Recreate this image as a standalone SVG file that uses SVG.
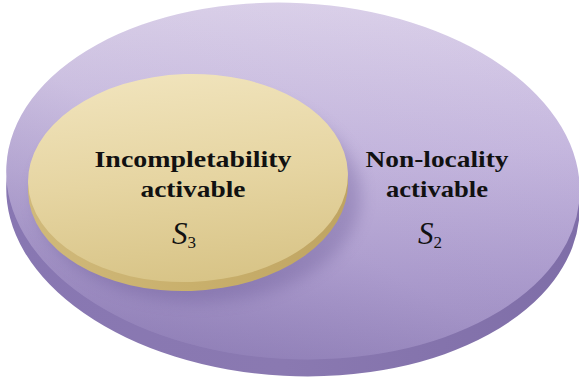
<svg xmlns="http://www.w3.org/2000/svg" width="579" height="387" viewBox="0 0 579 387">
  <defs>
    <linearGradient id="purpleTop" x1="0.35" y1="0" x2="0.5" y2="1">
      <stop offset="0" stop-color="#dcd2ea"/>
      <stop offset="0.45" stop-color="#c6b8df"/>
      <stop offset="0.8" stop-color="#ae9ecf"/>
      <stop offset="1" stop-color="#a090c4"/>
    </linearGradient>
    <linearGradient id="purpleShade" x1="0.85" y1="0.1" x2="0.15" y2="0.95">
      <stop offset="0" stop-color="#5f4d90" stop-opacity="0"/>
      <stop offset="0.55" stop-color="#5f4d90" stop-opacity="0.05"/>
      <stop offset="1" stop-color="#5f4d90" stop-opacity="0.3"/>
    </linearGradient>
    <linearGradient id="purpleSide" x1="0" y1="0" x2="1" y2="0">
      <stop offset="0" stop-color="#8877b2"/>
      <stop offset="0.5" stop-color="#8a79b1"/>
      <stop offset="1" stop-color="#7f6ea8"/>
    </linearGradient>
    <linearGradient id="yellowTop" x1="0.4" y1="0" x2="0.5" y2="1">
      <stop offset="0" stop-color="#f0e3bb"/>
      <stop offset="0.5" stop-color="#e6d5a2"/>
      <stop offset="1" stop-color="#d8c487"/>
    </linearGradient>
    <linearGradient id="yellowSide" x1="0" y1="0" x2="1" y2="0">
      <stop offset="0" stop-color="#d0b97b"/>
      <stop offset="0.5" stop-color="#c9b06c"/>
      <stop offset="1" stop-color="#bfa462"/>
    </linearGradient>
    <filter id="blur" x="-20%" y="-20%" width="140%" height="140%">
      <feGaussianBlur stdDeviation="8"/>
    </filter>
    <style>
      .lbl { font-family: "Liberation Serif", "Times New Roman", serif; font-weight: bold; font-size: 24px; fill: #111; }
      .sym { font-family: "Liberation Serif", "Times New Roman", serif; font-style: italic; font-size: 31px; fill: #111; }
      .sub { font-family: "Liberation Serif", "Times New Roman", serif; font-size: 17px; fill: #111; }
    </style>
  </defs>

  <g id="s2">
    <ellipse cx="293" cy="198" rx="287" ry="178" transform="rotate(3 293 198)" fill="url(#purpleSide)"/>
    <ellipse cx="293" cy="181" rx="287" ry="178" transform="rotate(3 293 181)" fill="url(#purpleTop)"/>
    <ellipse cx="293" cy="181" rx="287" ry="178" transform="rotate(3 293 181)" fill="url(#purpleShade)"/>
    <ellipse cx="198" cy="196" rx="163" ry="106" fill="#5a4888" opacity="0.3" filter="url(#blur)"/>
    <text class="lbl" x="437" y="167" text-anchor="middle" textLength="143" lengthAdjust="spacingAndGlyphs">Non-locality</text>
    <text class="lbl" x="437" y="197" text-anchor="middle" textLength="102" lengthAdjust="spacingAndGlyphs">activable</text>
    <text x="418" y="244"><tspan class="sym">S</tspan><tspan class="sub" dy="4">2</tspan></text>
  </g>

  <g id="s3">
    <ellipse cx="188" cy="187" rx="160" ry="104" transform="rotate(-2 188 187)" fill="url(#yellowSide)"/>
    <ellipse cx="188" cy="178" rx="160" ry="104" transform="rotate(-2 188 178)" fill="url(#yellowTop)"/>
    <text class="lbl" x="193" y="167" text-anchor="middle" textLength="197" lengthAdjust="spacingAndGlyphs">Incompletability</text>
    <text class="lbl" x="193" y="197" text-anchor="middle" textLength="105" lengthAdjust="spacingAndGlyphs">activable</text>
    <text x="172" y="244"><tspan class="sym">S</tspan><tspan class="sub" dy="4">3</tspan></text>
  </g>

  <g id="connectors"/>
</svg>
